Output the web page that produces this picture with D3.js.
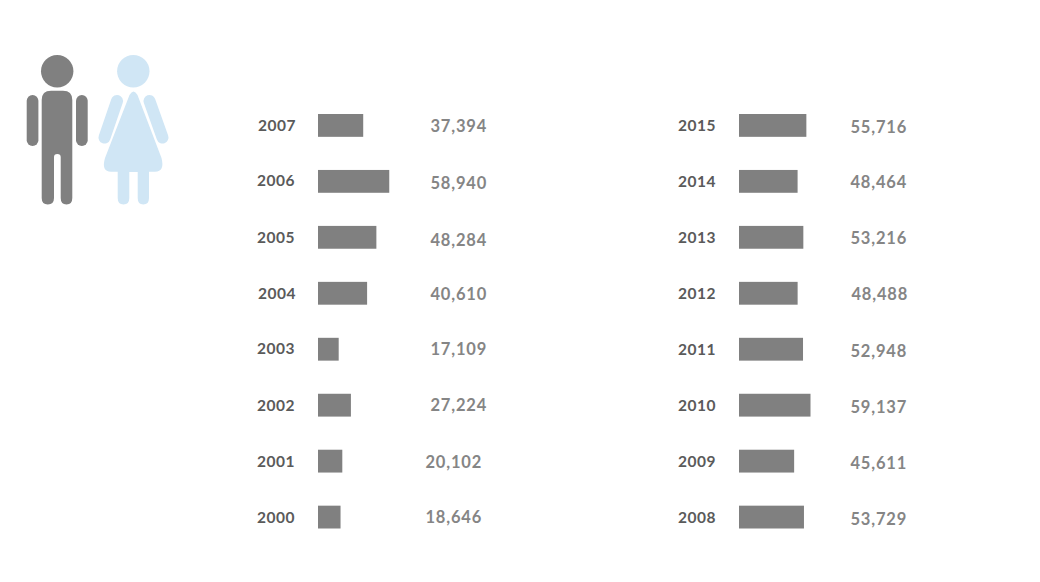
<!DOCTYPE html>
<html><head><meta charset="utf-8">
<script src="https://cdn.jsdelivr.net/npm/d3@7"></script>
<style>html,body{margin:0;background:#fff}svg{display:block}text{font-family:Lato,sans-serif}</style>
</head><body><svg id="c" width="1040" height="582"></svg>
<script>
const yearsLeft = ["2007","2006","2005","2004","2003","2002","2001","2000"];
const valuesLeft = [37394,58940,48284,40610,17109,27224,20102,18646];
const yearsRight = ["2015","2014","2013","2012","2011","2010","2009","2008"];
const valuesRight = [55716,48464,53216,48488,52948,59137,45611,53729];
// hand-placement jitter of the labels in the original, per row (dx, dy)
const nudgeValLeft = [[0,0],[0,1],[0,2],[0,0],[0,-1],[0,-1],[-5,0],[-5,-0.5]];
const nudgeValRight = [[0,0.5],[0,0],[0,0],[1,0],[0,1],[0,1],[0,1],[0,1]];
const nudgeYearLeft = [[1,0],[0,-0.5],[0,0],[1,0],[0,-0.5],[0,0],[0,0],[0,0]];
const nudgeYearRight = [[0,0],[0,0],[0,0],[0,0],[0,0],[0,0],[0,0],[0,0]];

const GRAY="#808080", BLUE="#d0e6f5", YEARC="#5a5a5a", VALC="#858585";
const svg=d3.select("#c");
const x=d3.scaleLinear().domain([0,59137]).range([0,71.5]);
const y=d3.scaleBand().domain(d3.range(8)).range([114,528.5]).paddingInner(0.592).paddingOuter(0);
const fmt=d3.format(",");

function panel(years,values,barX,yearEnd,valEnd,nv,ny){
  const g=svg.append("g");
  const rows=d3.range(8);
  g.selectAll("rect").data(rows).join("rect")
    .attr("x",barX).attr("y",i=>y(i)).attr("width",i=>x(values[i])).attr("height",y.bandwidth()).attr("fill",GRAY);
  g.selectAll("text.yr").data(rows).join("text").attr("class","yr")
    .attr("x",i=>yearEnd+ny[i][0]).attr("y",i=>y(i)+y.bandwidth()/2+ny[i][1]).attr("dy","0.35em")
    .attr("text-anchor","end").attr("font-size",15.5).attr("font-weight",700).attr("letter-spacing","0.5px").attr("fill",YEARC).text(i=>years[i]);
  g.selectAll("text.val").data(rows).join("text").attr("class","val")
    .attr("x",i=>valEnd+nv[i][0]).attr("y",i=>y(i)+y.bandwidth()/2+1+nv[i][1]).attr("dy","0.35em")
    .attr("text-anchor","end").attr("font-size",16.5).attr("font-weight",700).attr("letter-spacing","0.8px").attr("fill",VALC).text(i=>fmt(values[i]));
}
panel(yearsLeft,valuesLeft,318,295,487,nudgeValLeft,nudgeYearLeft);
panel(yearsRight,valuesRight,739,716,907,nudgeValRight,nudgeYearRight);

// pictograms
const man=svg.append("g").attr("fill",GRAY);
man.append("circle").attr("cx",57.2).attr("cy",71.3).attr("r",16.2);
man.append("rect").attr("x",26.7).attr("y",95).attr("width",11.7).attr("height",51).attr("rx",5.8);
man.append("rect").attr("x",76).attr("y",95).attr("width",11.7).attr("height",51).attr("rx",5.8);
man.append("path").attr("d","M41.7 100Q41.7 90.7 51 90.7H63Q72.3 90.7 72.3 100V198Q72.3 204.5 66.5 204.5Q60.7 204.5 60.7 198V157Q60.7 154 57.3 154Q54 154 54 157V198Q54 204.5 47.8 204.5Q41.7 204.5 41.7 198Z");
const wo=svg.append("g").attr("fill",BLUE);
wo.append("circle").attr("cx",133.3).attr("cy",71.3).attr("r",16.2);
wo.append("path").attr("d","M129.5 95Q133.5 88 137.5 95L161.5 158Q165 171.7 155 171.7H149V198Q149 204.5 143.3 204.5Q137.7 204.5 137.7 198V172H129.3V198Q129.3 204.5 123.5 204.5Q117.7 204.5 117.7 198V171.7H111Q101 171.7 105 158Z");
[[117,101,104.5,137.5],[149.5,101,162.5,137.5]].forEach(a=>{
  svg.append("line").attr("x1",a[0]).attr("y1",a[1]).attr("x2",a[2]).attr("y2",a[3])
    .attr("stroke",BLUE).attr("stroke-width",12).attr("stroke-linecap","round");
});
</script></body></html>
